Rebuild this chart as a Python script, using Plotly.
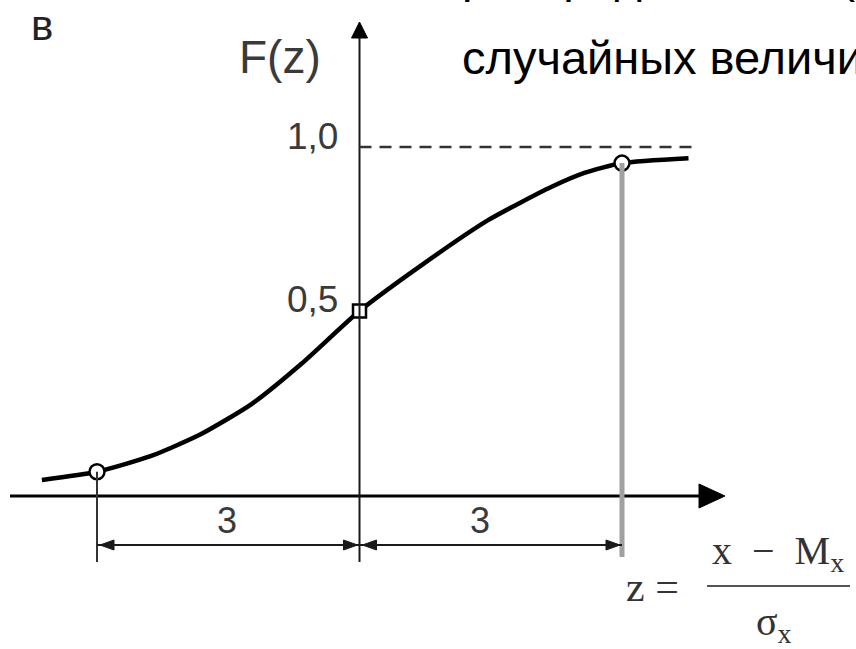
import plotly.graph_objects as go

# Схематичная функция распределения F(z) нормированной величины
z_curve = [-3.63, -3.0, -2.38, -1.81, -1.23, -0.66, 0.0, 0.71, 1.47, 2.19, 2.57, 3.0, 3.76]
f_curve = [-0.015, 0.01, 0.058, 0.125, 0.217, 0.34, 0.5, 0.64, 0.777, 0.878, 0.921, 0.951, 0.966]

z_ends = [-3.0, 3.0]
f_ends = [0.01, 0.951]
z_mid = [0.0]
f_mid = [0.5]

y_ticks = [1.0, 0.5]
y_tick_text = ["1,0", "0,5"]
span_z = [-3.0, 0.0, 3.0]
span_text = ["3", "3"]

W, H = 856, 649
X0, KX = 359.5, 87.5   # пиксель z=0, пикселей на единицу z
Y0, KY = 475.0, 328.0  # пиксель F=0, пикселей на единицу F


def zx(p):
    return (p - X0) / KX


def fy(p):
    return (Y0 - p) / KY


INK = "#1a1a1a"
GREY_TXT = "#3a3a3a"
SANS = "Liberation Sans, Arial, sans-serif"
SERIF = "Liberation Serif, Times New Roman, serif"
NBSP = "\u00a0"

fig = go.Figure()

fig.add_trace(go.Scatter(x=z_curve, y=f_curve, mode="lines",
                         line=dict(color="black", width=4.5, shape="spline", smoothing=0.6),
                         hoverinfo="skip"))
fig.add_trace(go.Scatter(x=z_ends, y=f_ends, mode="markers",
                         marker=dict(symbol="circle", size=15, color="white",
                                     line=dict(color="black", width=2.5)),
                         hoverinfo="skip"))
fig.add_trace(go.Scatter(x=z_mid, y=f_mid, mode="markers",
                         marker=dict(symbol="square", size=13, color="white",
                                     line=dict(color="black", width=2.5)),
                         hoverinfo="skip"))

shapes = []
# ось z
ax_y = fy(496)
shapes.append(dict(type="line", x0=zx(10), x1=zx(704), y0=ax_y, y1=ax_y,
                   line=dict(color="black", width=3)))
shapes.append(dict(type="path", xsizemode="pixel", ysizemode="pixel",
                   xanchor=zx(725), yanchor=ax_y, path="M0,0 L-26,12 L-26,-12 Z",
                   fillcolor="black", line=dict(color="black", width=1)))
# ось F
shapes.append(dict(type="line", x0=0, x1=0, y0=fy(562), y1=fy(36),
                   line=dict(color=INK, width=2)))
shapes.append(dict(type="path", xsizemode="pixel", ysizemode="pixel",
                   xanchor=0, yanchor=fy(22), path="M0,0 L-8,-16 L8,-16 Z",
                   fillcolor="black", line=dict(color="black", width=1)))
# асимптота F = 1
shapes.append(dict(type="line", x0=0, x1=zx(693), y0=y_ticks[0], y1=y_ticks[0],
                   line=dict(color="#333", width=2.5, dash="12px,8px")))
# выносные линии
shapes.append(dict(type="line", x0=z_ends[1], x1=z_ends[1], y0=f_ends[1], y1=fy(557),
                   line=dict(color="#a0a0a0", width=5)))
shapes.append(dict(type="line", x0=z_ends[0], x1=z_ends[0], y0=f_ends[0], y1=fy(562),
                   line=dict(color="#333", width=2)))
# размерные линии
dim_y = fy(545)
for a, b in zip(span_z[:-1], span_z[1:]):
    shapes.append(dict(type="line", x0=a, x1=b, y0=dim_y, y1=dim_y,
                       line=dict(color=INK, width=2)))
    shapes.append(dict(type="path", xsizemode="pixel", ysizemode="pixel",
                       xanchor=a, yanchor=dim_y,
                       path="M3,0 L17,5 L17,-5 Z",
                       fillcolor=INK, line=dict(color=INK, width=1)))
    shapes.append(dict(type="path", xsizemode="pixel", ysizemode="pixel",
                       xanchor=b, yanchor=dim_y,
                       path="M-2,0 L-16,5 L-16,-5 Z",
                       fillcolor=INK, line=dict(color=INK, width=1)))
# дробная черта формулы
shapes.append(dict(type="line", xref="paper", yref="paper",
                   x0=707 / W, x1=850 / W, y0=1 - 586 / H, y1=1 - 586 / H,
                   line=dict(color="#555", width=2)))

ann = []
for v, t, ys in zip(y_ticks, y_tick_text, [11, 12]):
    ann.append(dict(x=0, y=v, text=t, showarrow=False, xanchor="right",
                    xshift=-20, yshift=ys, font=dict(family=SANS, size=37, color=GREY_TXT)))
for a, b, t, xs in zip(span_z[:-1], span_z[1:], span_text, [-1, -11]):
    ann.append(dict(x=(a + b) / 2, y=fy(520), text=t, showarrow=False, xshift=xs,
                    font=dict(family=SANS, size=36, color=GREY_TXT)))


def paper_text(px_, py_, text, size, family=SANS, color=GREY_TXT, xanchor="center",
               yanchor="middle"):
    return dict(xref="paper", yref="paper", x=px_ / W, y=1 - py_ / H, text=text,
                showarrow=False, xanchor=xanchor, yanchor=yanchor, align="left",
                font=dict(family=family, size=size, color=color))


ann.append(paper_text(280, 57, "F(z)", 46))
ann.append(paper_text(42, 25, "в", 42, color="#222"))
ann.append(paper_text(652, 587, "z" + NBSP + "=", 42, family=SERIF, color="#333"))
ann.append(paper_text(778, 553, "x" + NBSP * 2 + "\u2212" + NBSP * 2 + "M<sub>x</sub>", 40,
                      family=SERIF, color="#333"))
ann.append(paper_text(774, 624, "σ<sub>x</sub>", 40, family=SERIF, color="#333"))
# заголовок слайда, обрезанный краем кадра
ann.append(paper_text(460, 4, "распределения F(z)", 47, color="black",
                      xanchor="left", yanchor="bottom"))
ann.append(paper_text(460, 86, "случайных величин", 47, color="black",
                      xanchor="left", yanchor="bottom"))

fig.update_layout(width=W, height=H, margin=dict(l=0, r=0, t=0, b=0),
                  paper_bgcolor="white", plot_bgcolor="white", showlegend=False,
                  shapes=shapes, annotations=ann)
fig.update_xaxes(visible=False, range=[zx(0), zx(W)], fixedrange=True)
fig.update_yaxes(visible=False, range=[fy(H), fy(0)], fixedrange=True)

# убираем стандартный отступ body, чтобы рисунок лёг ровно в окно
fig.write_html("out.html", config={"displayModeBar": False},
               post_script="document.body.style.margin='0';")
